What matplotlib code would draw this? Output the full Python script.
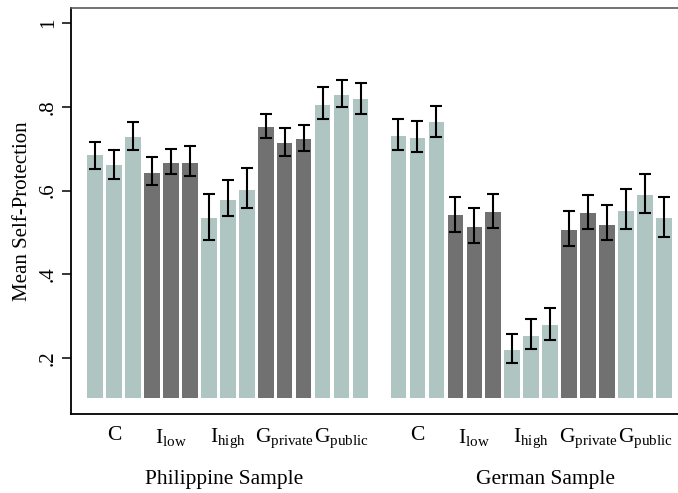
import numpy as np
import matplotlib
matplotlib.use("Agg")
import matplotlib.pyplot as plt

plt.rcParams["font.family"] = ["Liberation Serif", "DejaVu Serif"]
plt.rcParams["mathtext.fontset"] = "custom"
plt.rcParams["mathtext.rm"] = "Liberation Serif"
plt.rcParams["mathtext.it"] = "Liberation Serif:italic"

# Treatments, each shown for three rounds
treatments = ["C", r"I$_{\rm low}$", r"I$_{\rm high}$", r"G$_{\rm private}$", r"G$_{\rm public}$"]
samples = ["Philippine Sample", "German Sample"]

# Mean self-protection per bar (3 rounds x 5 treatments)
phil_mean = [0.684, 0.660, 0.728, 0.643, 0.666, 0.666, 0.535, 0.578, 0.601,
             0.751, 0.713, 0.723, 0.805, 0.828, 0.818]
phil_lo = [0.652, 0.627, 0.697, 0.614, 0.640, 0.634, 0.483, 0.539, 0.558,
           0.725, 0.682, 0.694, 0.771, 0.799, 0.782]
phil_hi = [0.717, 0.697, 0.764, 0.680, 0.699, 0.706, 0.591, 0.625, 0.653,
           0.783, 0.749, 0.757, 0.847, 0.863, 0.857]

ger_mean = [0.731, 0.725, 0.763, 0.541, 0.514, 0.549, 0.220, 0.253, 0.279,
            0.507, 0.546, 0.519, 0.552, 0.590, 0.534]
ger_lo = [0.698, 0.691, 0.729, 0.501, 0.475, 0.510, 0.189, 0.222, 0.244,
          0.468, 0.508, 0.482, 0.508, 0.546, 0.489]
ger_hi = [0.771, 0.765, 0.802, 0.585, 0.558, 0.593, 0.259, 0.294, 0.321,
          0.551, 0.589, 0.565, 0.605, 0.640, 0.585]

base = 0.105
light = "#aec5c1"
dark = "#717171"
group_colors = [light, dark, light, dark, light]

fig = plt.figure(figsize=(6.78, 4.93), dpi=100)
ax = fig.add_axes([71 / 678, 79 / 493, 617 / 678, 406.5 / 493])

n_per = len(treatments) * 3
for s, (mean, lo, hi) in enumerate([(phil_mean, phil_lo, phil_hi),
                                    (ger_mean, ger_lo, ger_hi)]):
    x = np.arange(n_per) + s * (n_per + 1)
    mean = np.array(mean)
    colors = [group_colors[i // 3] for i in range(n_per)]
    ax.bar(x, mean - base, bottom=base, width=0.82, color=colors, linewidth=0)
    yerr = np.vstack([mean - np.array(lo), np.array(hi) - mean])
    ax.errorbar(x, mean, yerr=yerr, fmt="none", ecolor="black",
                elinewidth=1.5, capsize=4.2, capthick=1.5)

ax.set_xlim(-1.27, 31.27)
ax.set_ylim(0.067, 1.037)

ax.set_yticks([0.2, 0.4, 0.6, 0.8, 1.0])
ax.set_yticklabels([".2", ".4", ".6", ".8", "1"], rotation=90, va="center")
ax.tick_params(axis="y", length=6.5, width=1.1, pad=3, labelsize=15)

xt = [1 + 3 * i for i in range(5)] + [17 + 3 * i for i in range(5)]
ax.set_xticks(xt)
ax.set_xticklabels(treatments * 2)
ax.tick_params(axis="x", length=0, pad=9, labelsize=15.5)

ax.set_ylabel("Mean Self-Protection", fontsize=15, labelpad=5)

ax.spines["right"].set_visible(False)
ax.spines["top"].set_color("#5a5a5a")
ax.spines["top"].set_linewidth(1.2)
for side in ["left", "bottom"]:
    ax.spines[side].set_color("black")
    ax.spines[side].set_linewidth(1.3)

for xpos, label in zip([6.79, 23.76], samples):
    ax.text(xpos, -0.16, label, transform=ax.get_xaxis_transform(),
            ha="center", va="center", fontsize=15.5)

fig.savefig("out.png", dpi=100)
